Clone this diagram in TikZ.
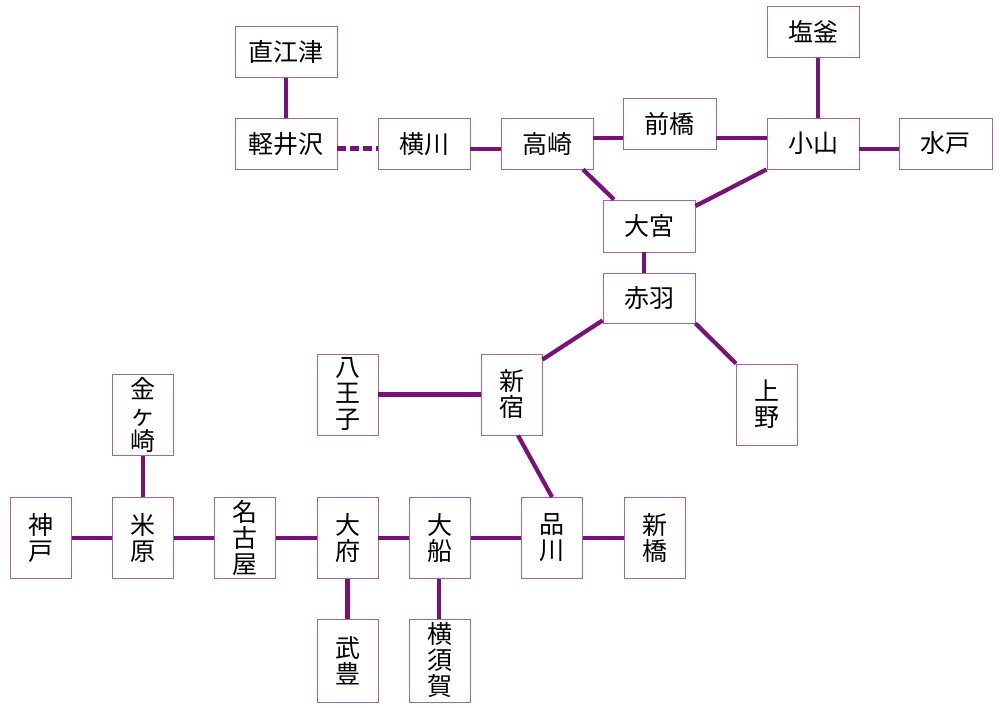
\documentclass[tikz,border=0pt]{standalone}
\usepackage{fontspec}
\setmainfont{Noto Sans CJK JP}
\definecolor{lineC}{RGB}{120,18,122}
\definecolor{boxC}{RGB}{165,100,165}
\begin{document}
\begin{tikzpicture}[x=1pt,y=-1pt,
  stn/.style={draw=boxC,line width=0.9pt,fill=white,inner sep=0pt,
    font=\fontsize{25}{26}\selectfont,align=center},
  hb/.style={stn,minimum width=92pt,minimum height=51pt},
  hbw/.style={stn,minimum width=102pt,minimum height=51pt},
  vb/.style={stn,minimum width=61pt,minimum height=81pt},
  rail/.style={draw=lineC,line width=4.2pt},
  cut/.style={rail,dash pattern=on 9pt off 4pt}]
\useasboundingbox[fill=white] (0,0) rectangle (1000,708);
\path
 (286,52) node[hbw] (naoetsu) {直江津}
 (286,144) node[hbw] (karuizawa) {軽井沢}
 (424,144) node[hb] (yokokawa) {横川}
 (547,143.5) node[hb] (takasaki) {高崎}
 (669.5,123.5) node[hb,minimum width=93pt] (maebashi) {前橋}
 (813,143.5) node[hb] (oyama) {小山}
 (813,32) node[hb] (shiogama) {塩釜}
 (945.5,143.5) node[hb,minimum width=93pt] (mito) {水戸}
 (649,226) node[hb,minimum height=52pt] (omiya) {大宮}
 (649,298) node[hb,minimum height=50pt] (akabane) {赤羽}
 (511.5,394.5) node[vb] (shinjuku) {新\\宿}
 (347.5,394.5) node[vb] (hachioji) {八\\王\\子}
 (767,404.5) node[vb] (ueno) {上\\野}
 (143,415) node[vb] (kanegasaki) {金\\ヶ\\崎}
 (41,538) node[vb] (kobe) {神\\戸}
 (143,538) node[vb] (maibara) {米\\原}
 (245,538) node[vb] (nagoya) {名\\古\\屋}
 (347.5,538) node[vb] (obu) {大\\府}
 (440,538) node[vb] (ofuna) {大\\船}
 (552,538) node[vb] (shinagawa) {品\\川}
 (655,538) node[vb] (shinbashi) {新\\橋}
 (347.5,660.5) node[vb,minimum height=83pt] (taketoyo) {武\\豊}
 (440,660.5) node[vb,minimum height=83pt] (yokosuka) {横\\須\\賀};
\draw[rail] (naoetsu) -- (karuizawa);
\draw[cut] ([yshift=-4.5pt]karuizawa.east) -- ([yshift=-4.5pt]yokokawa.west);
\draw[rail] ([yshift=-5pt]yokokawa.east) -- ([yshift=-5.5pt]takasaki.west);
\draw[rail] ([yshift=5.5pt]takasaki.east) -- ([yshift=-14.5pt]maebashi.west);
\draw[rail] ([yshift=-14.5pt]maebashi.east) -- ([yshift=5.5pt]oyama.west);
\draw[rail] ([xshift=5pt]shiogama.south) -- ([xshift=5pt]oyama.north);
\draw[rail] ([yshift=-5.5pt]oyama.east) -- ([yshift=-5.5pt]mito.west);
\draw[rail] ([xshift=36pt]takasaki.south) -- ([xshift=-35pt]omiya.north);
\draw[rail] (oyama.south west) -- ([yshift=20pt]omiya.east);
\draw[rail] ([xshift=-5pt]omiya.south) -- ([xshift=-5pt]akabane.north);
\draw[rail] ([yshift=3pt]akabane.south west) -- ([yshift=-6pt]shinjuku.north east);
\draw[rail] (akabane.south east) -- (ueno.north west);
\draw[rail] (hachioji.east) -- (shinjuku.west);
\draw[rail] ([xshift=6.5pt]shinjuku.south) -- (shinagawa.north);
\draw[rail] (kanegasaki) -- (maibara);
\draw[rail] (kobe) -- (maibara) -- (nagoya) -- (obu) -- (ofuna) -- (shinagawa) -- (shinbashi);
\draw[rail] (obu) -- (taketoyo);
\draw[rail] ([xshift=-1pt]ofuna.south) -- ([xshift=-1pt]yokosuka.north);
\end{tikzpicture}
\end{document}
